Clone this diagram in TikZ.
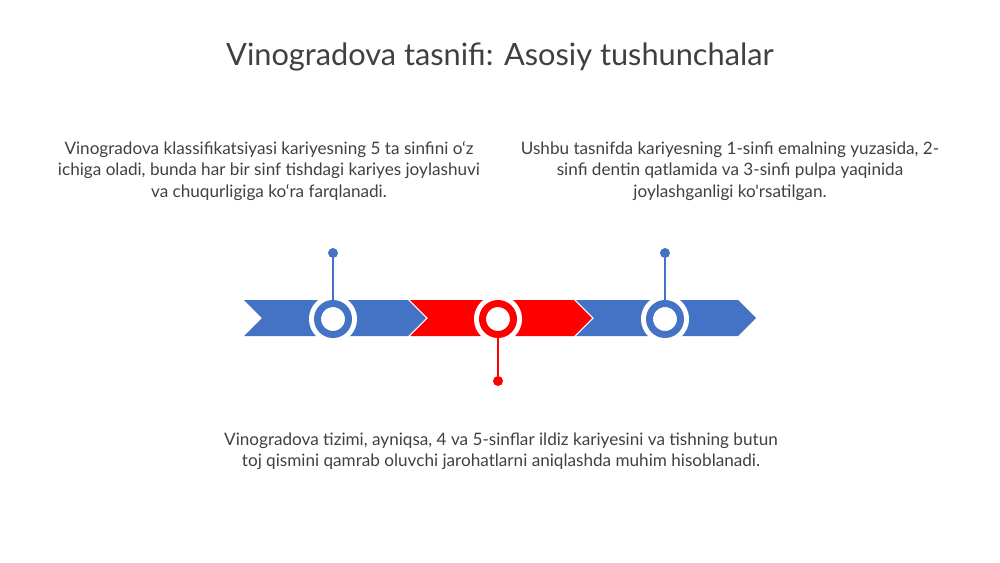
\documentclass[tikz,border=0pt]{standalone}
\usepackage{fontspec}
\setmainfont{Lato}[Ligatures=TeXOff]
\definecolor{accblue}{HTML}{4472C4}
\definecolor{accred}{HTML}{FF0000}
\definecolor{txtgray}{HTML}{404040}
\tikzset{
  ring/.style={circle,draw=#1,line width=0.14cm,fill=white,minimum size=0.62cm,inner sep=0pt,
    preaction={draw=white,line width=0.34cm}},
  dot/.style={circle,fill=#1,minimum size=0.2cm,inner sep=0pt},
  stem/.style={draw=#1,line width=0.04cm},
  bodytext/.style={align=center,text=txtgray,font=\fontsize{9.75}{12.2}\selectfont}
}
\begin{document}
\begin{tikzpicture}[x=0.02cm,y=-0.02cm]

\useasboundingbox (0,0) rectangle (1000,562);

% title
\node[text=txtgray,font=\fontsize{17.5}{21}\selectfont] (title) at (500,57) {Vinogradova tasnifi: Asosiy tushunchalar};

% chevrons
\fill[accblue] (244,300) -- (408,300) -- (426,318) -- (408,336) -- (244,336) -- (262,318) -- cycle;
\fill[accred] (410,300) -- (574,300) -- (592,318) -- (574,336) -- (410,336) -- (428,318) -- cycle;
\fill[accblue] (576,300) -- (738,300) -- (756,318) -- (738,336) -- (576,336) -- (594,318) -- cycle;

% rings
\node[ring=accblue] (c1) at (333,319) {};
\node[ring=accred] (c2) at (498,319) {};
\node[ring=accblue] (c3) at (665,319) {};

% stems
\node[dot=accblue] (d1) at (333,253) {};
\node[dot=accred] (d2) at (498,381) {};
\node[dot=accblue] (d3) at (665,253) {};
\draw[stem=accblue] (d1) -- (c1);
\draw[stem=accred] (c2) -- (d2);
\draw[stem=accblue] (d3) -- (c3);

% texts
\node[bodytext] (t1) at (269,171) {Vinogradova klassifikatsiyasi kariyesning 5 ta sinfini o‘z\\ichiga oladi, bunda har bir sinf tishdagi kariyes joylashuvi\\va chuqurligiga ko‘ra farqlanadi.};
\node[bodytext] (t2) at (730,171) {Ushbu tasnifda kariyesning 1-sinfi emalning yuzasida, 2-\\sinfi dentin qatlamida va 3-sinfi pulpa yaqinida\\joylashganligi ko'rsatilgan.};
\node[bodytext] (t3) at (501,451) {Vinogradova tizimi, ayniqsa, 4 va 5-sinflar ildiz kariyesini va tishning butun\\toj qismini qamrab oluvchi jarohatlarni aniqlashda muhim hisoblanadi.};

\end{tikzpicture}
\end{document}
